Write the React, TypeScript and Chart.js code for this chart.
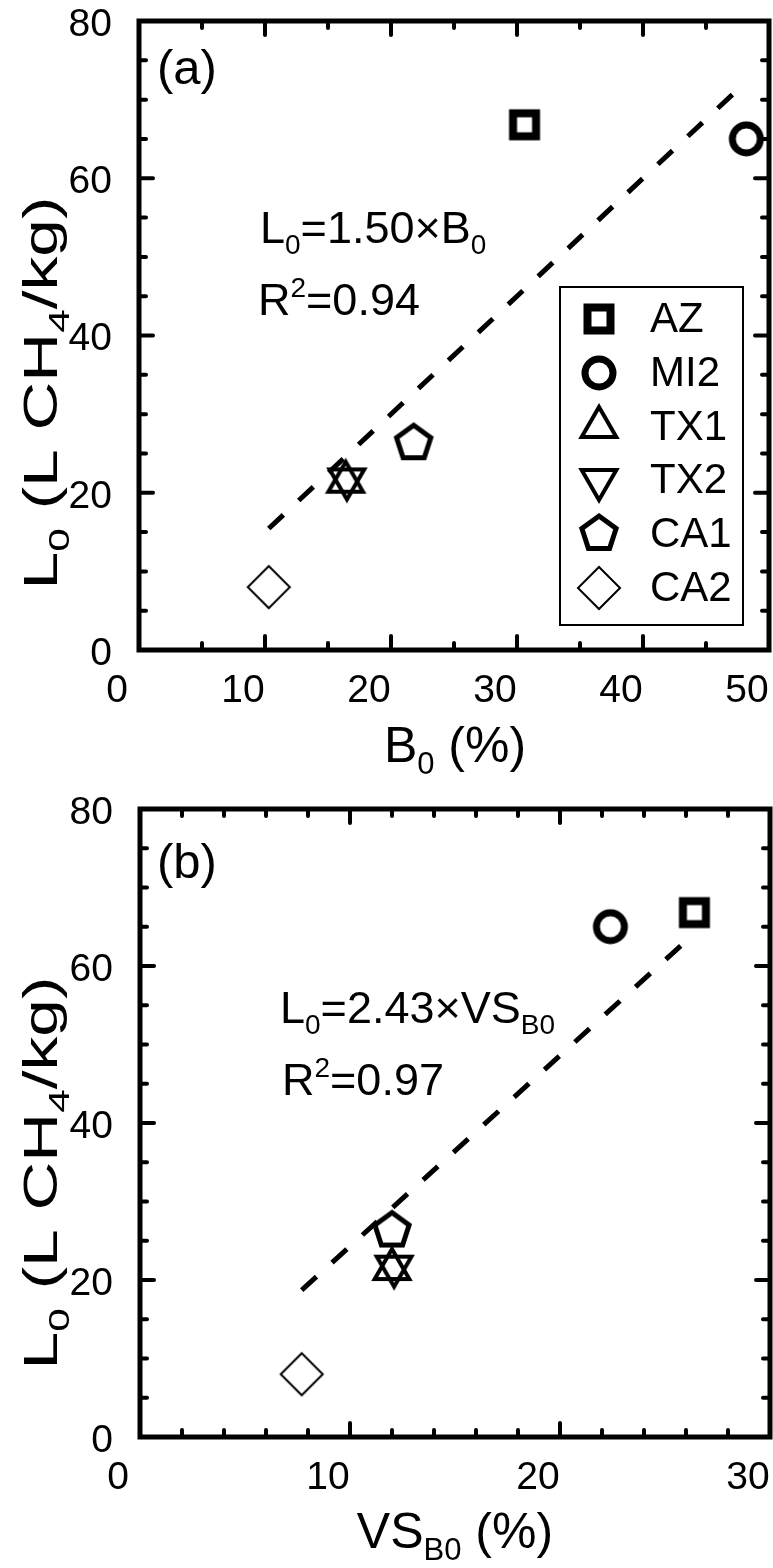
import React, { useEffect, useRef } from 'react';
import { Chart, registerables } from 'chart.js';

Chart.register(...registerables);

// Sites and measured values
const sites = ['AZ', 'MI2', 'TX1', 'TX2', 'CA1', 'CA2'];
const l0Values = [66.8, 65.0, 21.4, 21.7, 26.3, 8.0]; // L0 (L CH4/kg)
const b0Values = [30.6, 48.2, 16.4, 16.5, 21.8, 10.3]; // B0 (%)
const vsB0Values = [26.4, 22.4, 12.0, 12.1, 12.0, 7.7]; // VS_B0 (%)

// Regression through the origin
const slopeB0 = 1.5;
const r2B0 = 0.94;
const slopeVS = 2.43;
const r2VS = 0.97;

// Axis ticks
const yTickStep = 20;
const yMinorStep = 5;
const yMax = 80;
const xMaxB0 = 50;
const xStepB0 = 10;
const xMinorB0 = 5;
const xMaxVS = 30;
const xStepVS = 10;
const xMinorVS = 2;

const markerKinds = ['square', 'circle', 'triUp', 'triDown', 'pentagon', 'diamond'];

const FONT = "'Liberation Sans', Arial, Helvetica, sans-serif";

type Run = { t: string; sub?: boolean; sup?: boolean };

function polygon(g: CanvasRenderingContext2D, cx: number, cy: number, r: number, n: number, start: number) {
  for (let i = 0; i < n; i++) {
    const a = start + (i * 2 * Math.PI) / n;
    const px = cx + r * Math.cos(a);
    const py = cy + r * Math.sin(a);
    if (i === 0) g.moveTo(px, py);
    else g.lineTo(px, py);
  }
  g.closePath();
}

function makeMarker(kind: string): HTMLCanvasElement {
  const c = document.createElement('canvas');
  c.width = 64;
  c.height = 64;
  const g = c.getContext('2d')!;
  const cx = 32;
  const cy = 32;
  g.strokeStyle = '#000';
  g.lineJoin = 'miter';
  g.miterLimit = 10;
  g.beginPath();
  switch (kind) {
    case 'square':
      g.lineWidth = 8;
      g.rect(cx - 11.5, cy - 11.5, 23, 23);
      break;
    case 'circle':
      g.lineWidth = 7;
      g.arc(cx, cy, 14, 0, Math.PI * 2);
      break;
    case 'triUp':
      g.lineWidth = 4;
      polygon(g, cx, cy, 20, 3, -Math.PI / 2);
      break;
    case 'triDown':
      g.lineWidth = 4;
      polygon(g, cx, cy, 20, 3, Math.PI / 2);
      break;
    case 'pentagon':
      g.lineWidth = 5;
      polygon(g, cx, cy, 18, 5, -Math.PI / 2);
      break;
    default:
      g.lineWidth = 2;
      polygon(g, cx, cy, 21, 4, -Math.PI / 2);
  }
  g.stroke();
  return c;
}

function runFont(size: number, r: Run) {
  return `${r.sub || r.sup ? Math.round(size * 0.62) : size}px ${FONT}`;
}

function richWidth(ctx: CanvasRenderingContext2D, runs: Run[], size: number) {
  let w = 0;
  for (const r of runs) {
    ctx.font = runFont(size, r);
    w += ctx.measureText(r.t).width;
  }
  return w;
}

// Draws text with sub/superscripts; baseline at y
function drawRich(
  ctx: CanvasRenderingContext2D,
  runs: Run[],
  x: number,
  y: number,
  size: number,
  align: 'left' | 'center',
  stretch = 1
) {
  const w = richWidth(ctx, runs, size) * stretch;
  let cx = align === 'center' ? x - w / 2 : x;
  ctx.save();
  ctx.fillStyle = '#000';
  ctx.textBaseline = 'alphabetic';
  ctx.textAlign = 'left';
  for (const r of runs) {
    ctx.font = runFont(size, r);
    const dy = r.sub ? size * 0.24 : r.sup ? -size * 0.4 : 0;
    ctx.save();
    ctx.translate(cx, y + dy);
    ctx.scale(stretch, 1);
    ctx.fillText(r.t, 0, 0);
    ctx.restore();
    cx += ctx.measureText(r.t).width * stretch;
  }
  ctx.restore();
}

type PanelSpec = {
  xValues: number[];
  xMax: number;
  xStep: number;
  xMinor: number;
  slope: number;
  r2: number;
  padTop: number;
  padRight: number;
  yWidth: number;
  xHeight: number;
  tag: string;
  tagPos: [number, number];
  eqPos: [number, number];
  r2Pos: [number, number];
  eqRuns: Run[];
  xTitle: Run[];
  xTitlePos: [number, number];
  yTitlePos: [number, number];
  showLegend: boolean;
};

const yTitleRuns: Run[] = [
  { t: 'L' },
  { t: '0', sub: true },
  { t: ' (L CH' },
  { t: '4', sub: true },
  { t: '/kg)' },
];

const panelA: PanelSpec = {
  xValues: b0Values,
  xMax: xMaxB0,
  xStep: xStepB0,
  xMinor: xMinorB0,
  slope: slopeB0,
  r2: r2B0,
  padTop: 21,
  padRight: 4,
  yWidth: 139,
  xHeight: 134,
  tag: '(a)',
  tagPos: [157, 84],
  eqPos: [260, 243],
  r2Pos: [258, 315],
  eqRuns: [{ t: 'L' }, { t: '0', sub: true }, { t: `=${slopeB0.toFixed(2)}\u00d7B` }, { t: '0', sub: true }],
  xTitle: [{ t: 'B' }, { t: '0', sub: true }, { t: ' (%)' }],
  xTitlePos: [455, 762],
  yTitlePos: [57, 393],
  showLegend: true,
};

const panelB: PanelSpec = {
  xValues: vsB0Values,
  xMax: xMaxVS,
  xStep: xStepVS,
  xMinor: xMinorVS,
  slope: slopeVS,
  r2: r2VS,
  padTop: 25,
  padRight: 3,
  yWidth: 140,
  xHeight: 131,
  tag: '(b)',
  tagPos: [157, 94],
  eqPos: [280, 239],
  r2Pos: [282, 311],
  eqRuns: [{ t: 'L' }, { t: '0', sub: true }, { t: `=${slopeVS.toFixed(2)}\u00d7VS` }, { t: 'B0', sub: true }],
  xTitle: [{ t: 'VS' }, { t: 'B0', sub: true }, { t: ' (%)' }],
  xTitlePos: [455, 764],
  yTitlePos: [57, 389],
  showLegend: false,
};

function zeroPadding(s: any) {
  s.paddingLeft = 0;
  s.paddingRight = 0;
  s.paddingTop = 0;
  s.paddingBottom = 0;
}

function buildChart(canvas: HTMLCanvasElement, p: PanelSpec, markers: HTMLCanvasElement[]) {
  const xs = p.xValues;
  const xLo = Math.min(...xs);
  const xHi = Math.max(...xs);

  const pointSets = sites.map((s, i) => ({
    label: s,
    data: [{ x: xs[i], y: l0Values[i] }],
    pointStyle: markers[i],
    pointRadius: 20,
    showLine: false,
  }));

  const fitSet = {
    label: 'fit',
    data: [
      { x: xLo, y: p.slope * xLo },
      { x: xHi, y: p.slope * xHi },
    ],
    showLine: true,
    borderColor: '#000',
    borderWidth: 5,
    borderDash: [20, 21],
    pointRadius: 0,
    fill: false,
  };

  const decor = {
    id: 'decor',
    afterDraw(chart: any) {
      const ctx: CanvasRenderingContext2D = chart.ctx;
      const { left, right, top, bottom } = chart.chartArea;
      const xS = chart.scales.x;
      const yS = chart.scales.y;
      ctx.save();
      ctx.strokeStyle = '#000';
      // inward tick marks on all four sides
      ctx.lineWidth = 4;
      ctx.lineCap = 'round';
      ctx.beginPath();
      for (let v = 0; v <= p.xMax + 1e-9; v += p.xMinor) {
        const major = Math.abs(v / p.xStep - Math.round(v / p.xStep)) < 1e-6;
        const len = major ? 14 : 7;
        const px = xS.getPixelForValue(v);
        ctx.moveTo(px, bottom);
        ctx.lineTo(px, bottom - len);
        ctx.moveTo(px, top);
        ctx.lineTo(px, top + len);
      }
      for (let v = 0; v <= yMax + 1e-9; v += yMinorStep) {
        const major = v % yTickStep === 0;
        const len = major ? 14 : 7;
        const py = yS.getPixelForValue(v);
        ctx.moveTo(left, py);
        ctx.lineTo(left + len, py);
        ctx.moveTo(right, py);
        ctx.lineTo(right - len, py);
      }
      ctx.stroke();
      // frame
      ctx.lineWidth = 5;
      ctx.lineCap = 'butt';
      ctx.strokeRect(left, top, right - left, bottom - top);

      // panel tag and regression text
      drawRich(ctx, [{ t: p.tag }], p.tagPos[0], p.tagPos[1], 49, 'left');
      drawRich(ctx, p.eqRuns, p.eqPos[0], p.eqPos[1], 45, 'left');
      drawRich(
        ctx,
        [{ t: 'R' }, { t: '2', sup: true }, { t: `=${p.r2.toFixed(2)}` }],
        p.r2Pos[0],
        p.r2Pos[1],
        45,
        'left'
      );

      // axis titles
      drawRich(ctx, p.xTitle, p.xTitlePos[0], p.xTitlePos[1], 50, 'center');
      ctx.save();
      ctx.translate(p.yTitlePos[0], p.yTitlePos[1]);
      ctx.rotate(-Math.PI / 2);
      const natural = richWidth(ctx, yTitleRuns, 48);
      drawRich(ctx, yTitleRuns, 0, 0, 48, 'center', 393 / natural);
      ctx.restore();

      // legend
      if (p.showLegend) {
        ctx.lineWidth = 2;
        ctx.strokeRect(560, 287, 183, 338);
        const rowY = [319, 373, 427, 480, 534, 588];
        ctx.font = `42px ${FONT}`;
        ctx.fillStyle = '#000';
        ctx.textBaseline = 'middle';
        ctx.textAlign = 'left';
        sites.forEach((s, i) => {
          const m = markers[i];
          ctx.drawImage(m, 599 - m.width / 2, rowY[i] - m.height / 2);
          ctx.fillText(s, 650, rowY[i] + 1);
        });
      }
      ctx.restore();
    },
  };

  const tickFont = { family: FONT, size: 39 };

  return new Chart(canvas, {
    type: 'scatter',
    data: { datasets: [...pointSets, fitSet] as any },
    options: {
      responsive: false,
      animation: false,
      events: [],
      layout: { autoPadding: false, padding: { left: 0, top: p.padTop, right: p.padRight, bottom: 0 } },
      plugins: { legend: { display: false }, tooltip: { enabled: false } },
      scales: {
        x: {
          type: 'linear',
          position: 'bottom',
          min: 0,
          max: p.xMax,
          grid: { display: false },
          border: { display: false },
          ticks: {
            stepSize: p.xStep,
            font: tickFont,
            color: '#000',
            padding: 10,
            labelOffset: -22,
            maxRotation: 0,
            autoSkip: false,
          },
          afterFit: (s: any) => {
            s.height = p.xHeight;
            zeroPadding(s);
          },
        },
        y: {
          type: 'linear',
          min: 0,
          max: yMax,
          grid: { display: false },
          border: { display: false },
          ticks: {
            stepSize: yTickStep,
            font: tickFont,
            color: '#000',
            padding: 19,
            labelOffset: 4,
          },
          afterFit: (s: any) => {
            s.width = p.yWidth;
            zeroPadding(s);
          },
        },
      },
    } as any,
    plugins: [decor],
  });
}

export default function App() {
  const refA = useRef<HTMLCanvasElement>(null);
  const refB = useRef<HTMLCanvasElement>(null);

  useEffect(() => {
    const markers = markerKinds.map(makeMarker);
    const a = buildChart(refA.current!, panelA, markers);
    const b = buildChart(refB.current!, panelB, markers);
    return () => {
      a.destroy();
      b.destroy();
    };
  }, []);

  return (
    <div style={{ position: 'absolute', left: 0, top: 0, width: 773, height: 1568, background: '#fff' }}>
      <canvas ref={refA} width={773} height={784} style={{ display: 'block', width: 773, height: 784 }} />
      <canvas ref={refB} width={773} height={784} style={{ display: 'block', width: 773, height: 784 }} />
    </div>
  );
}
